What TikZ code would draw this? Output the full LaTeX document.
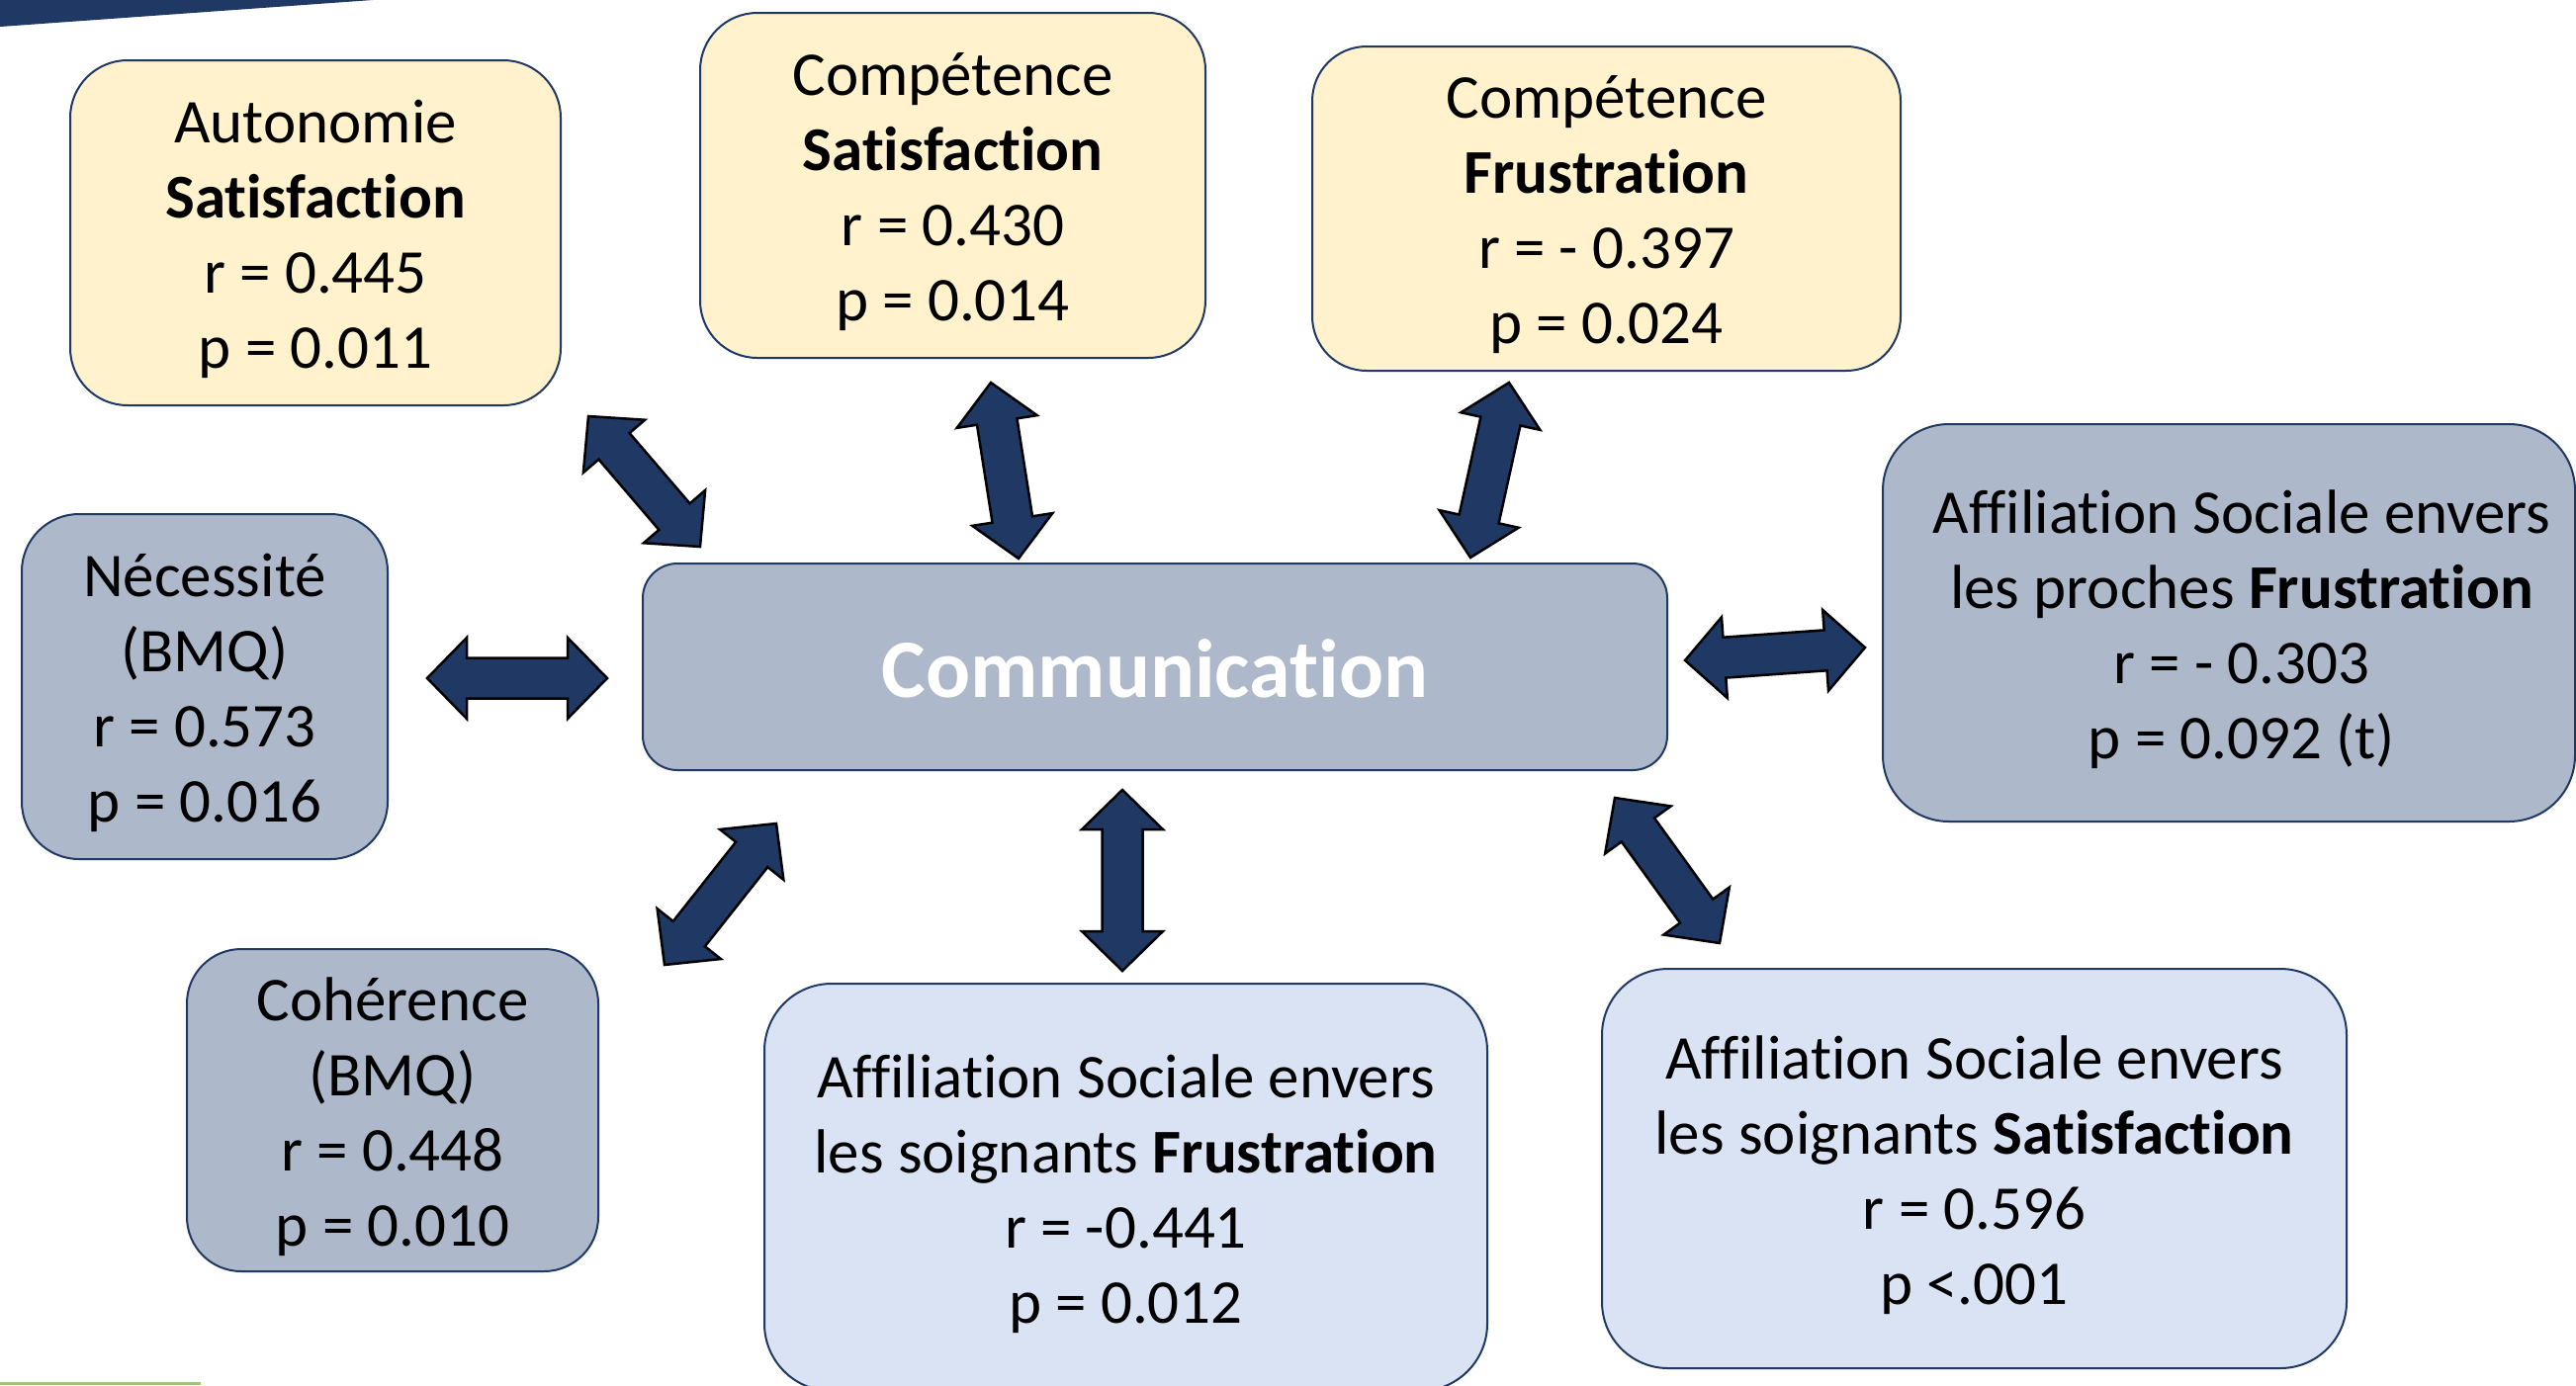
\documentclass[tikz,border=0pt]{standalone}
\usepackage{fontspec}
\setmainfont{Carlito}[Ligatures={NoCommon,NoContextual,NoRequired}, Contextuals=NoAlternate]
\usetikzlibrary{calc}
\definecolor{navy}{HTML}{1F3864}
\definecolor{yel}{HTML}{FFF2CC}
\definecolor{gblue}{HTML}{ADB9CA}
\definecolor{lblue}{HTML}{DAE3F3}
\definecolor{grn}{HTML}{9BC97A}
\tikzset{
  box/.style={draw=navy, line width=2pt, inner sep=0pt},
  yelbox/.style={box, fill=yel},
  gbox/.style={box, fill=gblue},
  lbox/.style={box, fill=lblue},
  txt/.style={inner sep=0pt, align=center, font=\fontsize{63}{76}\selectfont, text=black},
  barrowstyle/.style={fill=navy, draw=black, line width=2.5pt, line join=miter}
}
\newcommand\barrow[2]{%
  \draw[barrowstyle] let \p1=(#1), \p2=(#2),
    \n1={atan2(\y2-\y1,\x2-\x1)}, \n2={veclen(\x2-\x1,\y2-\y1)} in
    [shift={(\p1)}, rotate=\n1]
    (0pt,0pt) -- (40pt,41pt) -- (40pt,20.5pt) -- (\n2-40pt,20.5pt) -- (\n2-40pt,41pt)
    -- (\n2+0pt,0pt) -- (\n2-40pt,-41pt) -- (\n2-40pt,-20.5pt) -- (40pt,-20.5pt)
    -- (40pt,-41pt) -- cycle;}
\begin{document}
\begin{tikzpicture}[x=1pt,y=-1pt]
\useasboundingbox (0,0) rectangle (2605,1401);
\clip (0,0) rectangle (2605,1401);
\fill[white] (0,0) rectangle (2605,1401);
% decorations
\fill[navy] (0,-2) -- (377,-2) -- (377,0) -- (0,27) -- cycle;
\draw[grn, line width=3pt] (0,1399.5) -- (203,1399.5);
% boxes
\node[yelbox, minimum width=496pt, minimum height=349pt, rounded corners=58pt] (auto) at (319,235.5) {};
\node[txt] (autot) at ([yshift=-6.5pt]auto.center)
  {Autonomie\\\textbf{Satisfaction}\\r = 0.445\\p = 0.011};
\node[yelbox, minimum width=511pt, minimum height=349pt, rounded corners=58pt] (compsat) at (963.5,187.5) {};
\node[txt] (compsatt) at ([yshift=-6.5pt]compsat.center)
  {Compétence\\\textbf{Satisfaction}\\r = 0.430\\p = 0.014};
\node[yelbox, minimum width=595pt, minimum height=328pt, rounded corners=55pt] (compfru) at (1624.5,211) {};
\node[txt] (compfrut) at ([yshift=-6.5pt]compfru.center)
  {Compétence\\\textbf{Frustration}\\r = - 0.397\\p = 0.024};
\node[gbox, minimum width=700pt, minimum height=402pt, rounded corners=67pt] (proches) at (2254,630) {};
\node[txt] (prochest) at ([xshift=13pt,yshift=-6.5pt]proches.center)
  {Affiliation Sociale envers\\les proches \textbf{Frustration}\\r = - 0.303\\p = 0.092 (t)};
\node[gbox, minimum width=370pt, minimum height=349pt, rounded corners=58pt] (nec) at (207,694.5) {};
\node[txt] (nect) at ([yshift=-6.5pt]nec.center)
  {Nécessité\\(BMQ)\\r = 0.573\\p = 0.016};
\node[gbox, minimum width=1036pt, minimum height=209pt, rounded corners=35pt] (comm) at (1168,674.5) {};
\node[txt, font=\fontsize{84}{100}\selectfont\bfseries, text=white] (commt) at ([yshift=-2pt]comm.center)
  {Communication};
\node[gbox, minimum width=416pt, minimum height=326pt, rounded corners=55pt] (coh) at (397,1123) {};
\node[txt] (coht) at ([yshift=-6.5pt]coh.center)
  {Cohérence\\(BMQ)\\r = 0.448\\p = 0.010};
\node[lbox, minimum width=731pt, minimum height=412pt, rounded corners=68pt] (soigfru) at (1138.5,1201) {};
\node[txt] (soigfrut) at ([yshift=-6.5pt]soigfru.center)
  {Affiliation Sociale envers\\les soignants \textbf{Frustration}\\r = -0.441\\p = 0.012};
\node[lbox, minimum width=753pt, minimum height=404pt, rounded corners=67pt] (soigsat) at (1996.5,1182) {};
\node[txt] (soigsatt) at ([yshift=-6.5pt]soigsat.center)
  {Affiliation Sociale envers\\les soignants \textbf{Satisfaction}\\r = 0.596\\p <.001};
% arrow end points
\coordinate (a1s) at (595,421);  \coordinate (a1e) at (708,553);
\coordinate (a2s) at (1002,387); \coordinate (a2e) at (1030,565);
\coordinate (a3s) at (1526,387); \coordinate (a3e) at (1487,564);
\coordinate (a4s) at (432,686);  \coordinate (a4e) at (614,686);
\coordinate (a5s) at (1704,668); \coordinate (a5e) at (1886,655);
\coordinate (a6s) at (672,976);  \coordinate (a6e) at (785,833);
\coordinate (a7s) at (1135,799); \coordinate (a7e) at (1135,982);
\coordinate (a8s) at (1633,807); \coordinate (a8e) at (1739,954);
\barrow{a1s}{a1e}
\barrow{a2s}{a2e}
\barrow{a3s}{a3e}
\barrow{a4s}{a4e}
\barrow{a5s}{a5e}
\barrow{a6s}{a6e}
\barrow{a7s}{a7e}
\barrow{a8s}{a8e}
\end{tikzpicture}
\end{document}
